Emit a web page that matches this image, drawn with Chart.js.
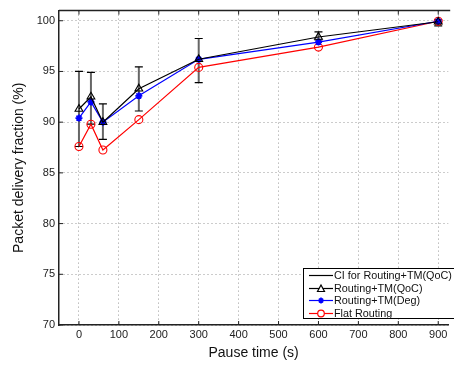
<!DOCTYPE html>
<html>
<head>
<meta charset="utf-8">
<script src="https://cdn.jsdelivr.net/npm/chart.js@4/dist/chart.umd.min.js"></script>
<style>
  html, body { margin: 0; padding: 0; background: #fff; }
  #wrap { position: relative; width: 454px; height: 366px; }
  #legend {
    position: absolute; left: 303px; top: 268px; width: 152px; height: 51px;
    box-sizing: border-box; border: 1.5px solid #000; background: #fff;
    font: 10.8px "Liberation Sans", Arial, sans-serif; color: #111;
  }
  #legend .row { position: absolute; left: 0; height: 13px; line-height: 13px; }
  #legend .txt { position: absolute; left: 30px; white-space: nowrap; }
  #legend canvas { position: absolute; left: 5px; top: 0; }
</style>
</head>
<body>
<div id="wrap">
  <canvas id="chart" width="454" height="366"></canvas>
  <div id="legend"></div>
</div>
<script>
const pauseTimes = [0, 30, 60, 150, 300, 600, 900];
const qocValues = [91.3, 92.5, 90.0, 93.3, 96.2, 98.4, 99.9];
const degValues = [90.4, 92.0, 90.0, 92.6, 96.2, 97.9, 99.95];
const flatValues = [87.6, 89.8, 87.25, 90.25, 95.4, 97.4, 99.95];
const ciLow = [87.6, 89.8, 88.3, 91.1, 93.9, 98.1, 99.5];
const ciHigh = [95.0, 94.9, 91.8, 95.45, 98.25, 98.9, 100.1];
const xTicks = [0, 100, 200, 300, 400, 500, 600, 700, 800, 900];
const yTicks = [70, 75, 80, 85, 90, 95, 100];

const FONT = '"Liberation Sans", Arial, sans-serif';
const pts = vals => pauseTimes.map((x, i) => ({ x, y: vals[i] }));

// confidence interval bars, placed through the chart scales
const ciBars = {
  id: 'ciBars',
  beforeDatasetsDraw(chart) {
    const { ctx, scales: { x, y } } = chart;
    ctx.save();
    pauseTimes.forEach((t, i) => {
      const px = x.getPixelForValue(t);
      const top = y.getPixelForValue(ciHigh[i]);
      const bot = y.getPixelForValue(ciLow[i]);
      ctx.strokeStyle = '#666'; ctx.lineWidth = 2;
      ctx.beginPath(); ctx.moveTo(px, top); ctx.lineTo(px, bot); ctx.stroke();
      ctx.strokeStyle = '#000'; ctx.lineWidth = 1.2;
      ctx.beginPath();
      ctx.moveTo(px - 4, top); ctx.lineTo(px + 4, top);
      ctx.moveTo(px - 4, bot); ctx.lineTo(px + 4, bot);
      ctx.stroke();
    });
    ctx.restore();
  },
};

// box top border and inner tick marks
const frame = {
  id: 'frame',
  afterDraw(chart) {
    const { ctx, chartArea: a, scales: { x, y } } = chart;
    ctx.save();
    ctx.strokeStyle = '#222'; ctx.lineWidth = 1.5;
    ctx.beginPath(); ctx.moveTo(a.left, a.top); ctx.lineTo(a.right + 2, a.top); ctx.stroke();
    ctx.lineWidth = 1;
    ctx.beginPath();
    xTicks.forEach(t => {
      const px = x.getPixelForValue(t);
      ctx.moveTo(px, a.bottom); ctx.lineTo(px, a.bottom - 4);
      ctx.moveTo(px, a.top); ctx.lineTo(px, a.top + 4);
    });
    yTicks.forEach(t => {
      const py = y.getPixelForValue(t);
      ctx.moveTo(a.left, py); ctx.lineTo(a.left + 4, py);
    });
    ctx.stroke();
    ctx.restore();
  },
};

new Chart(document.getElementById('chart'), {
  type: 'line',
  data: {
    datasets: [
      { label: 'Routing+TM(QoC)', data: pts(qocValues), borderColor: '#000', backgroundColor: 'rgba(0,0,0,0)',
        borderWidth: 1.2, pointStyle: 'triangle', pointRadius: 4.5, pointBorderWidth: 1.1, pointBorderColor: '#000' },
      { label: 'Routing+TM(Deg)', data: pts(degValues), borderColor: '#0000ff', backgroundColor: '#0000ff',
        borderWidth: 1.2, pointStyle: 'star', pointRadius: 3.5, pointBorderWidth: 1.8, pointBorderColor: '#0000ff' },
      { label: 'Flat Routing', data: pts(flatValues), borderColor: '#ff0000', backgroundColor: 'rgba(0,0,0,0)',
        borderWidth: 1.2, pointStyle: 'circle', pointRadius: 4, pointBorderWidth: 1.1, pointBorderColor: '#ff0000' },
    ],
  },
  options: {
    responsive: false, animation: false,
    layout: { padding: { top: 7, right: 0, left: 0, bottom: 0 } },
    plugins: { legend: { display: false }, tooltip: { enabled: false } },
    elements: { line: { tension: 0 } },
    scales: {
      x: {
        type: 'linear', min: -50, max: 925,
        afterBuildTicks: s => { s.ticks = xTicks.map(v => ({ value: v })); },
        afterFit: s => { s.height = 41; },
        ticks: { color: '#222', font: { family: FONT, size: 11 }, padding: 3, maxRotation: 0 },
        grid: { color: '#999', lineWidth: 1, tickLength: 0, drawTicks: false },
        border: { color: '#222', width: 1.5, dash: [1, 3] },
        title: { display: true, text: 'Pause time (s)', color: '#111', font: { family: FONT, size: 14 }, padding: { top: 1 } },
      },
      y: {
        type: 'linear', min: 70, max: 101,
        afterBuildTicks: s => { s.ticks = yTicks.map(v => ({ value: v })); },
        afterFit: s => { s.width = 59; },
        ticks: { color: '#222', font: { family: FONT, size: 11 }, padding: 4 },
        grid: { color: '#999', lineWidth: 1, drawTicks: false },
        border: { color: '#222', width: 1.5, dash: [1, 3] },
        title: { display: true, text: 'Packet delivery fraction (%)', color: '#111', font: { family: FONT, size: 14 }, padding: { top: 11, bottom: 0 } },
      },
    },
  },
  plugins: [ciBars, frame],
});

// legend box
const legendItems = [
  { text: 'CI for Routing+TM(QoC)', color: '#000', marker: null },
  { text: 'Routing+TM(QoC)', color: '#000', marker: 'triangle' },
  { text: 'Routing+TM(Deg)', color: '#0000ff', marker: 'star' },
  { text: 'Flat Routing', color: '#ff0000', marker: 'circle' },
];
const legend = document.getElementById('legend');
legendItems.forEach((it, i) => {
  const row = document.createElement('div');
  row.className = 'row';
  row.style.top = (0 + i * 12.5) + 'px';
  row.style.width = '150px';
  const c = document.createElement('canvas');
  c.width = 26; c.height = 13;
  const g = c.getContext('2d');
  g.strokeStyle = it.color; g.lineWidth = 1.2;
  g.beginPath(); g.moveTo(0, 6.5); g.lineTo(24, 6.5); g.stroke();
  if (it.marker === 'triangle') {
    g.fillStyle = '#fff'; g.beginPath(); g.moveTo(12, 3); g.lineTo(15.5, 9.5); g.lineTo(8.5, 9.5); g.closePath(); g.fill(); g.stroke();
  } else if (it.marker === 'star') {
    g.lineWidth = 1.6; g.beginPath();
    g.moveTo(12, 3.5); g.lineTo(12, 9.5); g.moveTo(9, 6.5); g.lineTo(15, 6.5);
    g.moveTo(10, 4.5); g.lineTo(14, 8.5); g.moveTo(14, 4.5); g.lineTo(10, 8.5); g.stroke();
  } else if (it.marker === 'circle') {
    g.fillStyle = '#fff'; g.beginPath(); g.arc(12, 6.5, 3.3, 0, Math.PI * 2); g.fill(); g.stroke();
  }
  row.appendChild(c);
  const t = document.createElement('span');
  t.className = 'txt'; t.textContent = it.text;
  row.appendChild(t);
  legend.appendChild(row);
});
</script>
</body>
</html>
